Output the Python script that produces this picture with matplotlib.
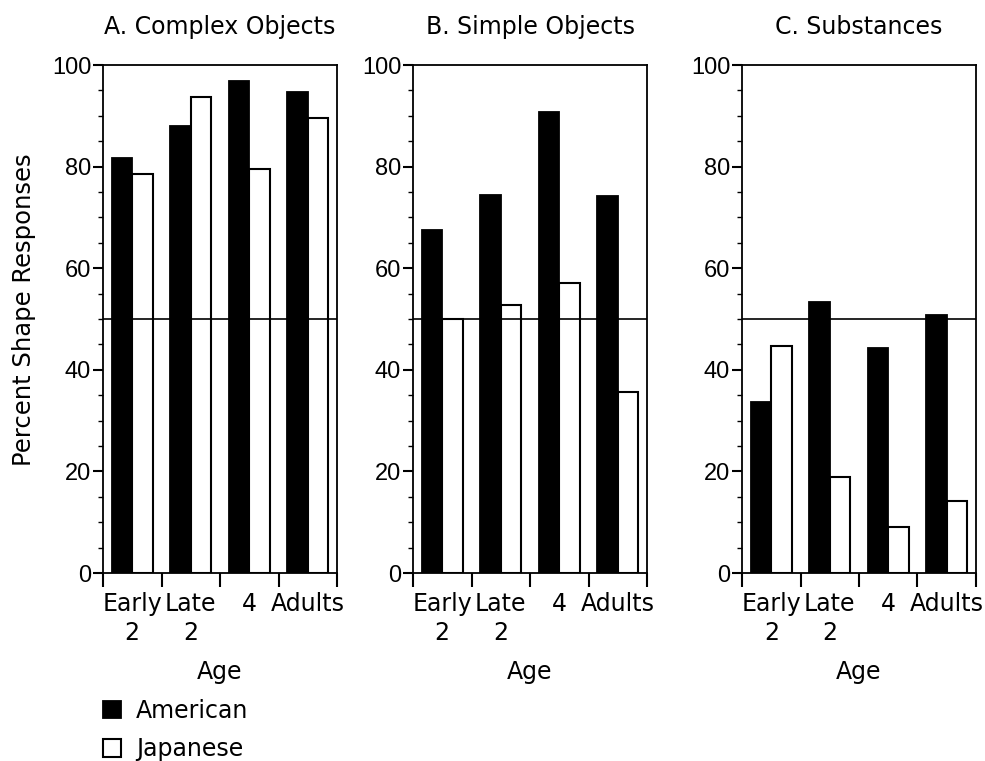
import matplotlib
matplotlib.use("Agg")
import matplotlib.pyplot as plt
from matplotlib.ticker import MultipleLocator, FixedLocator, NullFormatter
import numpy as np

plt.rcParams['font.family'] = ['DejaVu Sans']

panels = ["A. Complex Objects", "B. Simple Objects", "C. Substances"]
age_labels = ["Early\n2", "Late\n2", "4", "Adults"]
american = [
    [81.6, 88.0, 96.8, 94.6],
    [67.5, 74.5, 90.8, 74.2],
    [33.6, 53.3, 44.3, 50.7],
]
japanese = [
    [78.5, 93.7, 79.5, 89.5],
    [50.0, 52.8, 57.0, 35.6],
    [44.6, 18.8, 9.0, 14.1],
]
chance_level = 50
series_names = ["American", "Japanese"]

W, H = 985, 761
fig = plt.figure(figsize=(W / 100, H / 100), dpi=100)
lefts = [103, 413, 742]
width_px = 234
bottom_px, top_px = 573, 65
fs = 17

handles = None
for i, (title, am, jp) in enumerate(zip(panels, american, japanese)):
    ax = fig.add_axes([lefts[i] / W, 1 - bottom_px / H, width_px / W, (bottom_px - top_px) / H])
    x = np.arange(len(age_labels)) + 0.5
    bw = 0.35
    b1 = ax.bar(x - bw / 2, am, bw, color='black', edgecolor='black', linewidth=1.3)
    b2 = ax.bar(x + bw / 2, jp, bw, color='white', edgecolor='black', linewidth=1.5)
    handles = [b1, b2]
    ax.axhline(chance_level, color='black', linewidth=1.2, zorder=3)
    ax.set_xlim(0, len(age_labels))
    ax.set_ylim(0, 100)
    ax.yaxis.set_major_locator(MultipleLocator(20))
    ax.yaxis.set_minor_locator(MultipleLocator(5))
    ax.xaxis.set_major_locator(FixedLocator(np.arange(len(age_labels) + 1)))
    ax.xaxis.set_major_formatter(NullFormatter())
    ax.xaxis.set_minor_locator(FixedLocator(x))
    ax.set_xticklabels(age_labels, minor=True)
    ax.tick_params(axis='x', which='major', direction='out', length=10, width=1.5)
    ax.tick_params(axis='x', which='minor', length=0, labelsize=fs, pad=13.5)
    ax.tick_params(axis='y', which='major', direction='out', length=7.5, width=1.5, pad=1)
    ax.tick_params(axis='y', which='minor', direction='out', length=3.5, width=1.0)
    for lbl in ax.get_xticklabels(minor=True):
        lbl.set_linespacing(1.25)
    for lbl in ax.get_yticklabels():
        lbl.set_fontfamily('Liberation Sans')
        lbl.set_fontsize(17)
    for s in ax.spines.values():
        s.set_linewidth(1.3)
    ax.set_title(title, fontsize=fs, pad=22)
    ax.set_xlabel("Age", fontsize=fs, labelpad=11)
    if i == 0:
        ax.set_ylabel("Percent Shape Responses", fontsize=17.5)
        ax.yaxis.set_label_coords(-0.285, (573 - 310) / 508)

fig.legend(handles, series_names, loc='upper left',
           bbox_to_anchor=(103 / W, 1 - 699 / H), frameon=False,
           fontsize=fs, handlelength=0.76, handleheight=0.76,
           handletextpad=0.64, labelspacing=0.6, borderpad=0,
           borderaxespad=0)

fig.savefig("out.png", dpi=100)
